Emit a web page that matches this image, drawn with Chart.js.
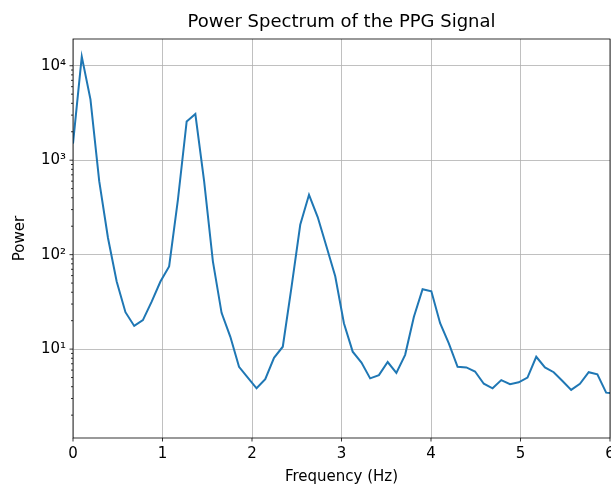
<!DOCTYPE html>
<html lang="en">
<head>
  <meta charset="UTF-8">
  <title>Power Spectrum of the PPG Signal</title>
  <script src="https://cdn.jsdelivr.net/npm/chart.js"></script>
  <style>
    body {
      margin: 0;
      background: #ffffff;
    }
    #wrap {
      width: 611px;
      height: 487px;
    }
  </style>
</head>
<body>
  <div id="wrap"><canvas id="psd" width="611" height="487"></canvas></div>

  <script>
    // frequency bins (Hz)
    const freqs = [
      0, 0.098, 0.195, 0.293, 0.391, 0.488, 0.586, 0.684, 0.781, 0.879,
      0.977, 1.074, 1.172, 1.270, 1.367, 1.465, 1.563, 1.660, 1.758, 1.855,
      1.953, 2.051, 2.148, 2.246, 2.344, 2.441, 2.539, 2.637, 2.734, 2.832,
      2.930, 3.027, 3.125, 3.223, 3.320, 3.418, 3.516, 3.613, 3.711, 3.809,
      3.906, 4.004, 4.102, 4.199, 4.297, 4.395, 4.492, 4.590, 4.688, 4.785,
      4.883, 4.980, 5.078, 5.176, 5.273, 5.371, 5.469, 5.566, 5.664, 5.762,
      5.859, 5.957, 6.055
    ];
    // power at each bin
    const power = [
      1500, 12500, 4400, 600, 150, 52, 24.6, 17.6, 20.3, 31.8,
      52, 75, 380, 2570, 3080, 600, 85, 24.2, 13.5, 6.5,
      5.0, 3.85, 4.8, 8.1, 10.6, 45, 207, 430, 250, 122,
      59, 18.8, 9.4, 7.2, 4.9, 5.3, 7.3, 5.6, 8.7, 22,
      43, 41, 18.8, 11.5, 6.5, 6.4, 5.8, 4.3, 3.85, 4.7,
      4.25, 4.45, 5.0, 8.3, 6.4, 5.7, 4.6, 3.7, 4.3, 5.7,
      5.4, 3.46, 3.4
    ];
    const xTicks = [0, 1, 2, 3, 4, 5, 6];
    const decades = [1, 10, 100, 1000, 10000];
    const supers = { '0': '⁰', '1': '¹', '2': '²', '3': '³', '4': '⁴' };

    const FONT = "'DejaVu Sans', sans-serif";

    function isDecade(v) {
      return decades.some(d => Math.abs(v - d) / d < 1e-6);
    }

    // spines + tick marks like matplotlib
    const framePlugin = {
      id: 'frame',
      afterDraw(chart) {
        const { ctx, chartArea: a, scales } = chart;
        ctx.save();
        ctx.strokeStyle = '#000000';
        ctx.lineWidth = 0.8;
        ctx.strokeRect(a.left, a.top, a.right - a.left, a.bottom - a.top);
        ctx.beginPath();
        xTicks.forEach(v => {
          const px = scales.x.getPixelForValue(v);
          ctx.moveTo(px, a.bottom);
          ctx.lineTo(px, a.bottom + 3.5);
        });
        scales.y.ticks.forEach(t => {
          const py = scales.y.getPixelForValue(t.value);
          const len = isDecade(t.value) ? 3.5 : 2;
          ctx.moveTo(a.left, py);
          ctx.lineTo(a.left - len, py);
        });
        ctx.stroke();
        ctx.restore();
      }
    };

    new Chart(document.getElementById('psd'), {
      type: 'line',
      data: {
        datasets: [{
          data: freqs.map((f, i) => ({ x: f, y: power[i] })),
          borderColor: '#1f77b4',
          borderWidth: 2,
          pointRadius: 0,
          tension: 0,
          fill: false
        }]
      },
      options: {
        responsive: false,
        animation: false,
        layout: { padding: { left: 0, right: 1, top: 0, bottom: 0 } },
        plugins: {
          legend: { display: false },
          tooltip: { enabled: false },
          title: {
            display: true,
            fullSize: false,
            text: 'Power Spectrum of the PPG Signal',
            color: '#000000',
            font: { family: FONT, size: 18, weight: 'normal' },
            padding: { top: 11.4, bottom: 6 }
          }
        },
        scales: {
          x: {
            type: 'linear',
            min: 0,
            max: 6,
            afterBuildTicks: scale => {
              scale.ticks = xTicks.map(v => ({ value: v }));
            },
            afterFit: scale => {
              scale.height = 49;
              scale.paddingLeft = 0;
              scale.paddingRight = 0;
            },
            ticks: {
              color: '#000000',
              font: { family: FONT, size: 15 },
              padding: 7,
              maxRotation: 0,
              autoSkip: false,
              callback: v => String(v)
            },
            grid: { color: '#b0b0b0', lineWidth: 0.8, drawTicks: false },
            border: { display: false },
            title: {
              display: true,
              text: 'Frequency (Hz)',
              color: '#000000',
              font: { family: FONT, size: 15 },
              padding: { top: 0, bottom: 1.3 }
            }
          },
          y: {
            type: 'logarithmic',
            min: 1.146,
            max: 19180,
            afterBuildTicks: scale => {
              const t = [];
              decades.forEach(d => {
                for (let m = 1; m <= 9; m++) {
                  const v = d * m;
                  if (v >= scale.min && v <= scale.max) t.push({ value: v });
                }
              });
              scale.ticks = t;
            },
            afterFit: scale => {
              scale.width = 73;
              scale.paddingTop = 0;
              scale.paddingBottom = 0;
            },
            ticks: {
              color: '#000000',
              font: { family: FONT, size: 15 },
              padding: 7,
              autoSkip: false,
              callback: v => {
                if (!isDecade(v)) return '';
                const e = String(Math.round(Math.log10(v)));
                return '10' + e.split('').map(c => supers[c]).join('');
              }
            },
            grid: {
              color: c => (c.tick && isDecade(c.tick.value)) ? '#b0b0b0' : 'rgba(0,0,0,0)',
              lineWidth: 0.8,
              drawTicks: false
            },
            border: { display: false },
            title: {
              display: true,
              text: 'Power',
              color: '#000000',
              font: { family: FONT, size: 15 },
              padding: { top: 11, bottom: 0 }
            }
          }
        }
      },
      plugins: [framePlugin]
    });
  </script>
</body>
</html>
